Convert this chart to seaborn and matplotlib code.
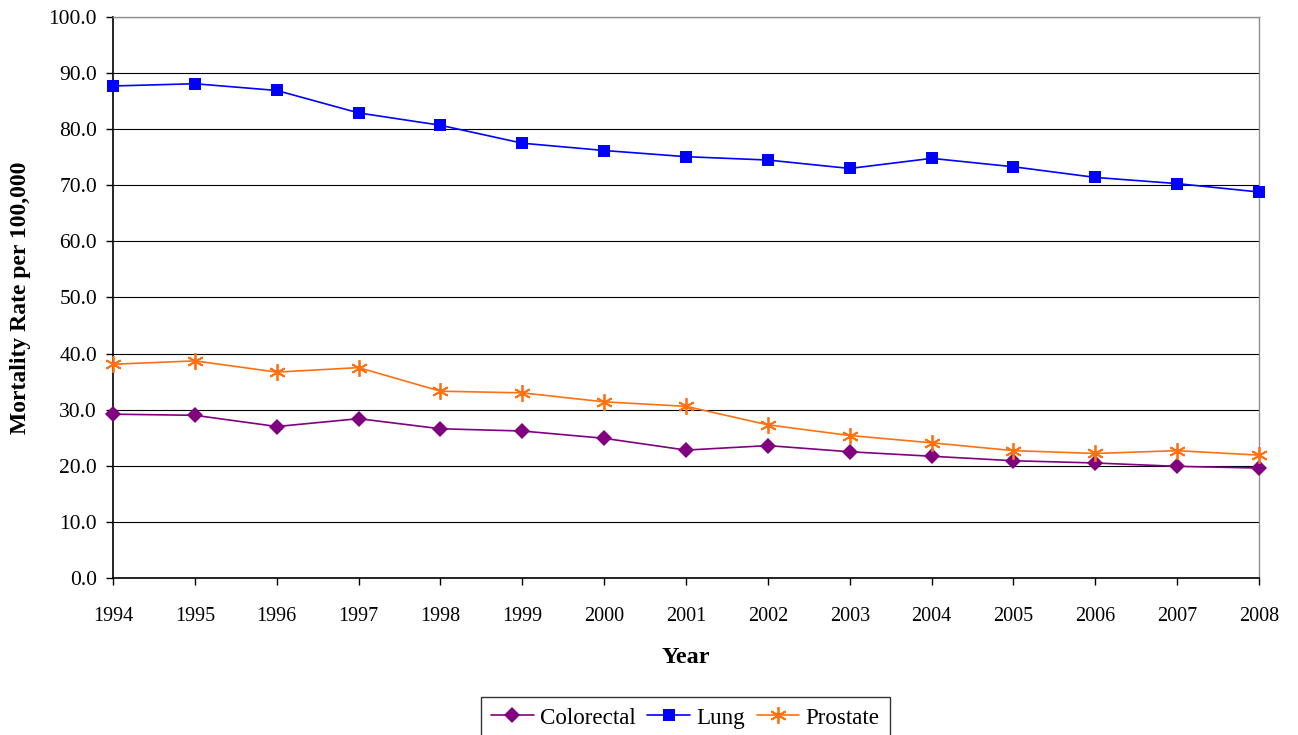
import matplotlib
matplotlib.use("Agg")
import matplotlib.pyplot as plt
import seaborn as sns
import pandas as pd
from matplotlib.ticker import FormatStrFormatter, MultipleLocator

years = list(range(1994, 2009))
colorectal = [29.2, 29.0, 27.0, 28.4, 26.6, 26.2, 24.9, 22.8, 23.6, 22.5, 21.7, 20.9, 20.5, 19.9, 19.6]
lung = [87.7, 88.1, 86.9, 82.9, 80.7, 77.5, 76.2, 75.1, 74.5, 73.0, 74.8, 73.3, 71.4, 70.3, 68.8]
prostate = [38.1, 38.7, 36.7, 37.5, 33.3, 33.0, 31.4, 30.6, 27.3, 25.4, 24.1, 22.7, 22.2, 22.7, 21.9]

series_names = ["Colorectal", "Lung", "Prostate"]

df = pd.DataFrame({
    "Year": years * 3,
    "Rate": colorectal + lung + prostate,
    "Site": sum([[n] * len(years) for n in series_names], []),
})

sns.set_style("white")
plt.rcParams["font.family"] = ["Liberation Serif", "DejaVu Serif"]
plt.rcParams["text.color"] = "black"
plt.rcParams["axes.labelcolor"] = "black"
plt.rcParams["xtick.color"] = "black"
plt.rcParams["ytick.color"] = "black"

fig = plt.figure(figsize=(12.98, 7.35), dpi=100)
ax = fig.add_axes([0.0871, 0.2136, 0.8829, 0.7633])

palette = {"Colorectal": "#800080", "Lung": "#0000FF", "Prostate": "#FF7010"}
markers = {"Colorectal": "D", "Lung": "s", "Prostate": (6, 2, 0)}
sizes = {"Colorectal": 8, "Lung": 8, "Prostate": 12}

for name in series_names:
    sub = df[df["Site"] == name]
    sns.lineplot(data=sub, x="Year", y="Rate", ax=ax, color=palette[name],
                 marker=markers[name], markersize=sizes[name],
                 markeredgecolor=palette[name],
                 markeredgewidth=1.3 if name == "Prostate" else 0,
                 linewidth=1.2, label=name, clip_on=False, zorder=3)

ax.set_xlim(1994, 2008)
ax.set_ylim(0, 100)
ax.set_xticks(years)
ax.set_xticklabels([str(y) for y in years])
ax.yaxis.set_major_locator(MultipleLocator(10))
ax.yaxis.set_major_formatter(FormatStrFormatter("%.1f"))
ax.grid(axis="y", color="black", linewidth=0.8)
ax.grid(axis="x", visible=False)
ax.set_axisbelow(True)

for side in ["left", "bottom"]:
    ax.spines[side].set_color("black")
    ax.spines[side].set_linewidth(1.2)
for side in ["top", "right"]:
    ax.spines[side].set_color("#909090")
    ax.spines[side].set_linewidth(1.0)

ax.tick_params(axis="both", which="major", colors="black", labelcolor="black",
               direction="out", length=5, width=1, bottom=True, left=True)
ax.tick_params(axis="x", labelsize=14.5, pad=16)
ax.tick_params(axis="y", labelsize=15.5, pad=6.5)

ax.set_xlabel("Year", fontsize=17.5, fontweight="bold", color="black")
ax.xaxis.label.set_va("center")
ax.xaxis.set_label_coords(0.5, -0.141)
ax.set_ylabel("Mortality Rate per 100,000", fontsize=17, fontweight="bold", color="black")
ax.yaxis.label.set_va("center")
ax.yaxis.set_label_coords(-0.081, 0.5)

handles, labels = ax.get_legend_handles_labels()
ax.get_legend().remove()
leg = fig.legend(handles, labels, loc="upper center", bbox_to_anchor=(0.528, 0.0517),
                 ncol=3, frameon=True, fancybox=False, fontsize=16.6,
                 handlelength=1.85, columnspacing=0.5, handletextpad=0.28,
                 borderpad=0.45, borderaxespad=0, edgecolor="black",
                 labelcolor="black")
leg.get_frame().set_linewidth(1.0)

fig.savefig("out.png", dpi=100, facecolor="white")
